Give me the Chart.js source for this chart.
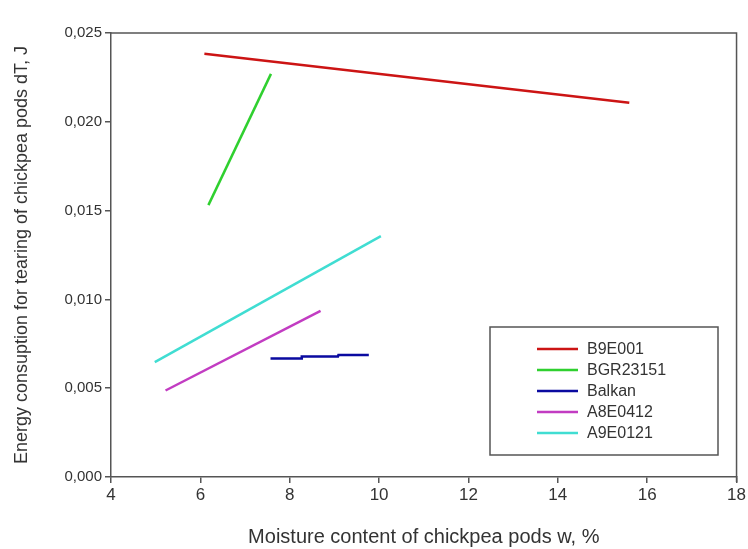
<!DOCTYPE html>
<html>
<head>
<meta charset="utf-8">
<script src="https://cdn.jsdelivr.net/npm/chart.js@4/dist/chart.umd.min.js"></script>
<style>
  html, body { margin: 0; padding: 0; background: #fff; }
  #wrap { width: 748px; height: 549px; }
</style>
</head>
<body>
<div id="wrap"><canvas id="chickpea" width="748" height="549"></canvas></div>
<script>
// data
var varieties = ["B9E001", "BGR23151", "Balkan", "A8E0412", "A9E0121"];
var colors = ["#cc1414", "#2fd02f", "#0a0aa0", "#c23cc2", "#40ddd2"];

var b9e001_w = [6.09, 15.60];
var b9e001_dT = [0.02383, 0.02107];
var bgr23151_w = [6.18, 7.58];
var bgr23151_dT = [0.01531, 0.02270];
var balkan_w = [7.57, 8.26, 8.27, 9.08, 9.09, 9.77];
var balkan_dT = [0.00667, 0.00667, 0.00679, 0.00679, 0.00687, 0.00687];
var a8e0412_w = [5.22, 8.69];
var a8e0412_dT = [0.00487, 0.00936];
var a9e0121_w = [4.98, 10.04];
var a9e0121_dT = [0.00647, 0.01356];

var xTicks = [4, 6, 8, 10, 12, 14, 16, 18];
var yTicks = [0, 0.005, 0.010, 0.015, 0.020, 0.025];

function pts(xs, ys) {
  return xs.map(function (x, i) { return { x: x, y: ys[i] }; });
}
var series = [
  pts(b9e001_w, b9e001_dT),
  pts(bgr23151_w, bgr23151_dT),
  pts(balkan_w, balkan_dT),
  pts(a8e0412_w, a8e0412_dT),
  pts(a9e0121_w, a9e0121_dT)
];

// frame round the plot area (top + right sides)
var framePlugin = {
  id: 'frame',
  afterDraw: function (chart) {
    var a = chart.chartArea, c = chart.ctx;
    c.save();
    c.strokeStyle = '#555';
    c.lineWidth = 1.5;
    c.beginPath();
    c.moveTo(a.left, a.top);
    c.lineTo(a.right, a.top);
    c.lineTo(a.right, a.bottom + 5);
    c.stroke();
    c.restore();
  }
};

// boxed legend inside the plot
var legendBox = {
  id: 'legendBox',
  afterDraw: function (chart) {
    var c = chart.ctx;
    var bx = 490, by = 327, bw = 228, bh = 128;
    c.save();
    c.fillStyle = '#fff';
    c.fillRect(bx, by, bw, bh);
    c.strokeStyle = '#555';
    c.lineWidth = 1.5;
    c.strokeRect(bx, by, bw, bh);
    c.font = '16px "Liberation Sans", Arial, sans-serif';
    c.textBaseline = 'middle';
    chart.data.datasets.forEach(function (ds, i) {
      var y = by + 22 + i * 21;
      c.strokeStyle = ds.borderColor;
      c.lineWidth = 2.5;
      c.beginPath();
      c.moveTo(537, y);
      c.lineTo(578, y);
      c.stroke();
      c.fillStyle = '#333';
      c.fillText(ds.label, 587, y + 1);
    });
    c.restore();
  }
};

var ctx = document.getElementById("chickpea").getContext('2d');
var chickpeaChart = new Chart(ctx, {
  type: 'scatter',
  data: {
    datasets: varieties.map(function (name, i) {
      return {
        label: name,
        data: series[i],
        showLine: true,
        borderColor: colors[i],
        backgroundColor: colors[i],
        borderWidth: 2.5,
        pointRadius: 0,
        tension: 0
      };
    })
  },
  options: {
    responsive: false,
    animation: false,
    layout: { padding: { left: 0, right: 10, top: 33, bottom: 0 } },
    plugins: {
      legend: { display: false },
      tooltip: { enabled: false }
    },
    scales: {
      x: {
        type: 'linear',
        min: 4,
        max: 18,
        afterBuildTicks: function (axis) {
          axis.ticks = xTicks.map(function (v) { return { value: v }; });
        },
        afterFit: function (axis) { axis.height = 72; },
        grid: { drawOnChartArea: false, drawTicks: true, tickLength: 6, color: '#555', lineWidth: 1.5 },
        border: { display: true, color: '#555', width: 1.5 },
        ticks: {
          color: '#333',
          padding: 2,
          font: { family: '"Liberation Sans", Arial, sans-serif', size: 17 }
        },
        title: {
          display: true,
          text: 'Moisture content of chickpea pods w, %',
          color: '#333',
          padding: { top: 20, bottom: 0 },
          font: { family: '"Liberation Sans", Arial, sans-serif', size: 20 }
        }
      },
      y: {
        type: 'linear',
        min: 0,
        max: 0.025,
        afterBuildTicks: function (axis) {
          axis.ticks = yTicks.map(function (v) { return { value: v }; });
        },
        afterFit: function (axis) { axis.width = 111; },
        grid: { drawOnChartArea: false, drawTicks: true, tickLength: 6, color: '#555', lineWidth: 1.5 },
        border: { display: true, color: '#555', width: 1.5 },
        ticks: {
          color: '#333',
          padding: 3,
          font: { family: '"Liberation Sans", Arial, sans-serif', size: 15 },
          callback: function (v) { return v.toFixed(3).replace('.', ','); }
        },
        title: {
          display: true,
          text: 'Energy consuption for tearing of chickpea pods dT, J',
          color: '#333',
          padding: { top: 11, bottom: 4 },
          font: { family: '"Liberation Sans", Arial, sans-serif', size: 18 }
        }
      }
    }
  },
  plugins: [framePlugin, legendBox]
});
</script>
</body>
</html>
